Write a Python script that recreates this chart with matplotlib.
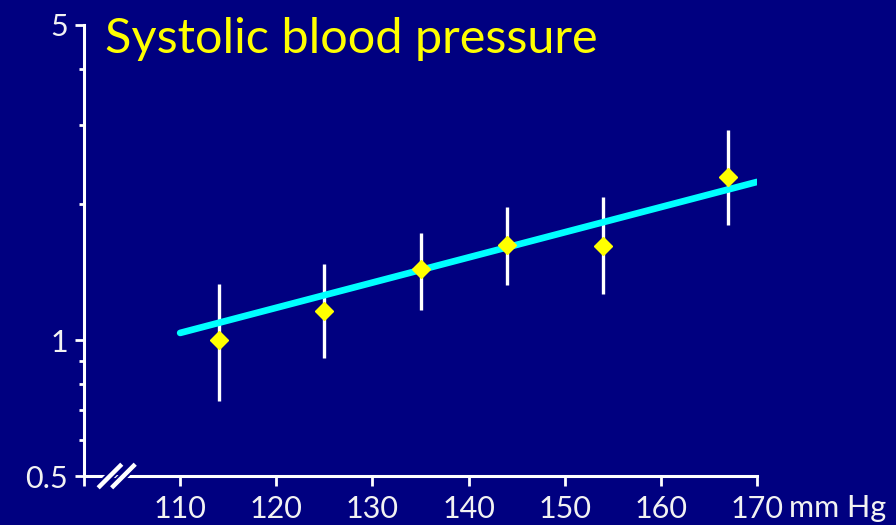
import numpy as np
import matplotlib
matplotlib.use("Agg")
import matplotlib.pyplot as plt
from matplotlib.path import Path
from matplotlib.ticker import FixedLocator, NullFormatter
import matplotlib.patheffects as pe

# data
sbp = [114, 125, 135, 144, 154, 167]
rr = [1.0, 1.16, 1.435, 1.625, 1.62, 2.30]
rr_lo = [0.734, 0.914, 1.167, 1.326, 1.267, 1.802]
rr_hi = [1.331, 1.474, 1.733, 1.972, 2.075, 2.922]
fit_x = [110, 170]
fit_y = [1.038, 2.244]

xticks = [100, 110, 120, 130, 140, 150, 160, 170]
xlabels = ["", "110", "120", "130", "140", "150", "160", "170"]
yticks = [0.5, 1, 5]
ylabels = ["0.5", "1", "5"]
yminor = [0.6, 0.7, 0.8, 0.9, 2, 3, 4]
title = "Systolic blood pressure"
unit = "mm Hg"

NAVY = "#000080"
FONT = "Lato"
plt.rcParams["font.family"] = [FONT, "DejaVu Sans"]

fig = plt.figure(figsize=(8.96, 5.25), dpi=100, facecolor=NAVY)
ax = fig.add_axes([84 / 896, 49 / 525, (757 - 84) / 896, (476 - 25) / 525])
ax.set_facecolor(NAVY)
ax.set_yscale("log")
ax.set_xlim(100, 170)
ax.set_ylim(0.5, 5)

rr_a = np.array(rr)
yerr = np.vstack([rr_a - np.array(rr_lo), np.array(rr_hi) - rr_a])
ax.errorbar(sbp, rr, yerr=yerr, fmt="none", ecolor="white", elinewidth=2.4,
            capsize=0, zorder=2)
ax.plot(fit_x, fit_y, color="#00ffff", lw=4.8, solid_capstyle="round", zorder=3)
ax.plot(sbp, rr, linestyle="none", marker="D", ms=9.5, color="#ffff00",
        mec="#ffff00", zorder=4)

for side in ("top", "right"):
    ax.spines[side].set_visible(False)
for side in ("left", "bottom"):
    ax.spines[side].set_color("white")
    ax.spines[side].set_linewidth(2.2)

ax.xaxis.set_major_locator(FixedLocator(xticks))
ax.set_xticklabels(xlabels)
ax.yaxis.set_major_locator(FixedLocator(yticks))
ax.set_yticklabels(ylabels)
ax.yaxis.set_minor_locator(FixedLocator(yminor))
ax.yaxis.set_minor_formatter(NullFormatter())
ax.tick_params(axis="x", which="major", length=7, width=2, color="white",
               labelcolor="#f2f2f2", labelsize=22, pad=7)
ax.tick_params(axis="y", which="major", length=6.5, width=2, color="white",
               labelcolor="#f2f2f2", labelsize=22, pad=5)
ax.tick_params(axis="y", which="minor", length=3.6, width=2, color="white")

# unit after the last x tick label
ax.annotate(unit, xy=(170, 0), xycoords=("data", "axes fraction"),
            xytext=(23, -29.5), textcoords="offset points", ha="left",
            va="baseline", color="#f2f2f2", fontsize=22)

# axis break mark: two slashes on the x axis
slash = Path([(-1, -1), (1, 1)], [Path.MOVETO, Path.LINETO])
ax.plot([102.7, 104.1], [0.5, 0.5], linestyle="none", marker=slash, ms=17,
        mew=3.2, mec="white", clip_on=False, zorder=5,
        path_effects=[pe.Stroke(linewidth=6, foreground=NAVY), pe.Normal()])

fig.text(105 / 896, (525 - 53) / 525, title, color="#ffff00", fontsize=35,
         ha="left", va="baseline")

fig.savefig("out.png", dpi=100, facecolor=NAVY)
